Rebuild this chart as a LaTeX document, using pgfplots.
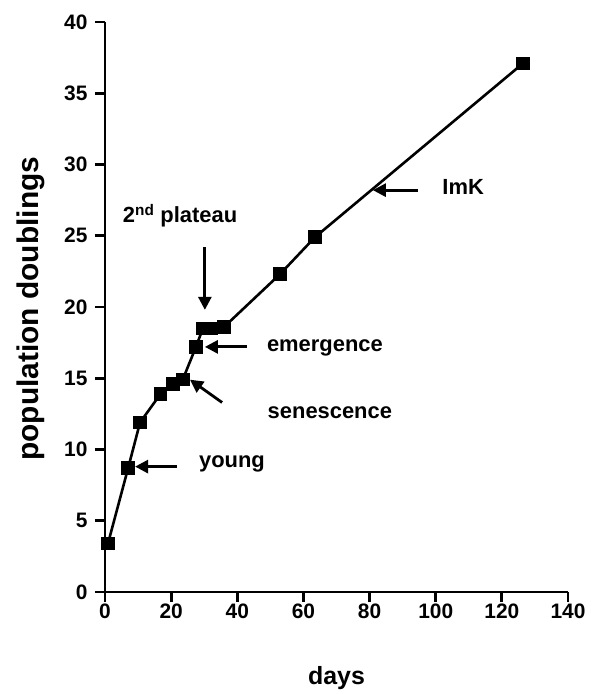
\documentclass[border=0pt]{standalone}
\usepackage{fontspec}
\setmainfont{Liberation Sans}
\usepackage{pgfplots}
\pgfplotsset{compat=1.18}
\usetikzlibrary{arrows.meta}
\begin{document}
\begin{tikzpicture}
\begin{axis}[
  scale only axis,
  width=463bp, height=570bp,
  xmin=0, xmax=140, ymin=0, ymax=40,
  axis lines*=left,
  axis line style={line width=2.8bp},
  xtick={0,20,...,140},
  ytick={0,5,...,40},
  tick align=outside,
  major tick length=10bp,
  tick style={line width=2.8bp, black},
  /pgf/number format/assume math mode=true,
  ticklabel style={font=\fontsize{21}{21}\selectfont\bfseries},
  yticklabel style={xshift=-4bp},
  xticklabel style={yshift=2bp},
  xlabel={days},
  ylabel={population doublings},
  xlabel style={font=\fontsize{25}{25}\selectfont\bfseries, at={(axis description cs:0.5,-0.151)}, anchor=center},
  ylabel style={font=\fontsize{30}{30}\selectfont\bfseries, at={(axis description cs:-0.160,0.497)}, anchor=center},
  clip=false,
]
\addplot[black, line width=2.6bp, mark=square*, mark size=5.5bp, mark options={solid}] coordinates {
(0.9,3.4) (7.0,8.7) (10.6,11.9) (16.8,13.9) (20.5,14.6) (23.5,14.9) (27.5,17.2) (29.6,18.5) (32.2,18.5) (36.0,18.6) (52.9,22.3) (63.5,24.9) (126.4,37.1)
};
\tikzset{ann/.style={font=\fontsize{22}{22}\selectfont\bfseries, anchor=center, inner sep=0pt}}
\tikzset{arr/.style={line width=2.8bp, -{Triangle[length=13bp,width=13bp]}}}
\draw[arr] (axis cs:21.8,8.8) -- (axis cs:9.1,8.8);
\draw[arr] (axis cs:35.4,13.3) -- (axis cs:25.7,14.9);
\draw[arr] (axis cs:42.9,17.2) -- (axis cs:30.2,17.2);
\draw[arr] (axis cs:30.2,24.2) -- (axis cs:30.2,19.8);
\draw[arr] (axis cs:94.6,28.2) -- (axis cs:81.0,28.2);
\node[ann] at (axis cs:38.4,9.0) {young};
\node[ann] at (axis cs:68.0,12.6) {senescence};
\node[ann] at (axis cs:66.5,17.1) {emergence};
\node[ann] at (axis cs:22.7,26.4) {2\textsuperscript{nd} plateau};
\node[ann] at (axis cs:108.3,28.4) {ImK};
\end{axis}
\pgfresetboundingbox
\path (-105bp,-102bp) rectangle (489bp,592bp);
\end{tikzpicture}
\end{document}
